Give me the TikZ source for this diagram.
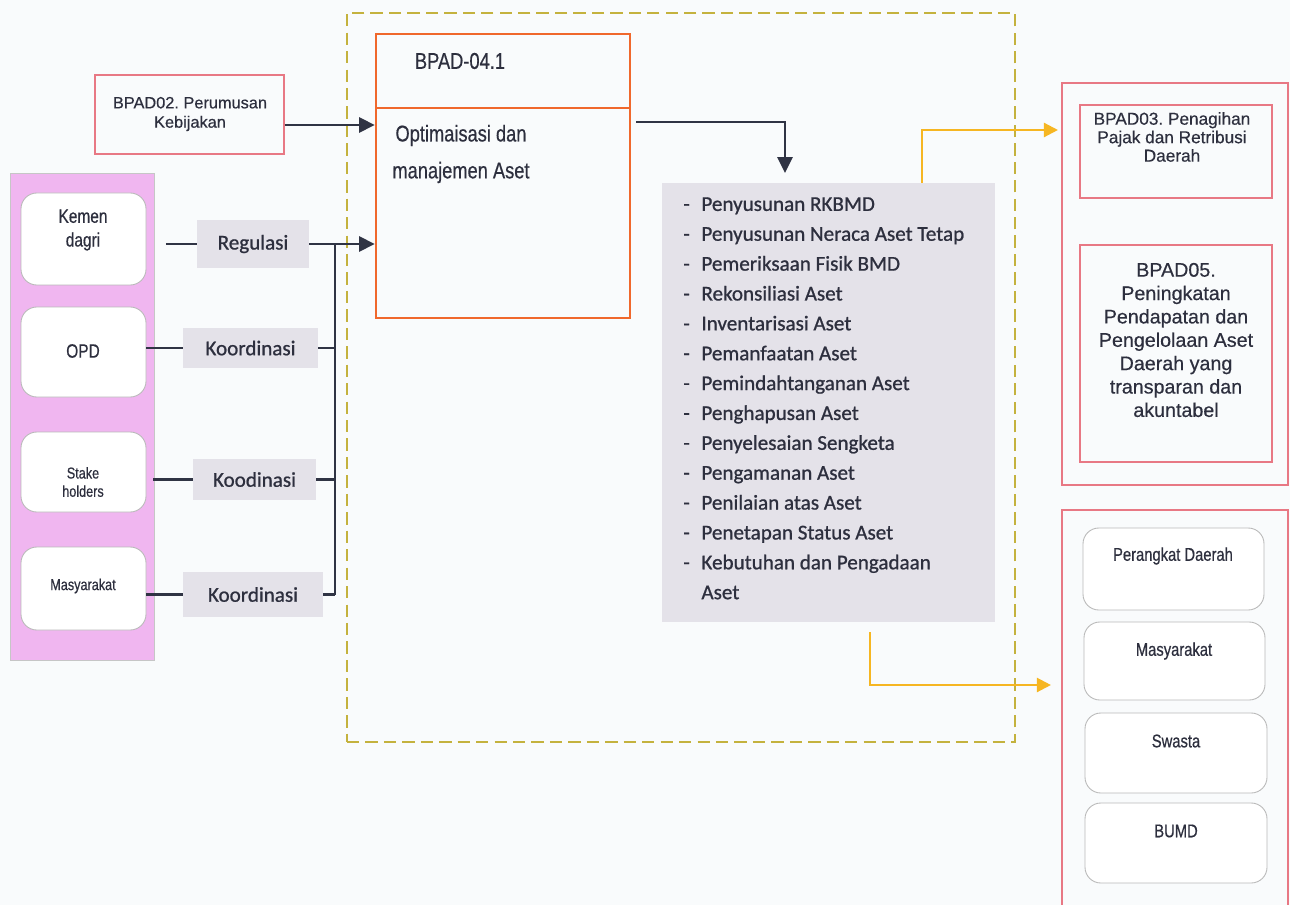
\documentclass[tikz,border=0pt]{standalone}
\usepackage{fontspec}
\setmainfont{Liberation Sans}[FakeBold=0.5]
\newfontfamily\narrowfont{Liberation Sans}[FakeStretch=0.8,FakeBold=0.5]
\newfontfamily\calibfont{Carlito}[FakeBold=0.9]
\usetikzlibrary{arrows.meta,fit,positioning}

\definecolor{bingkai}{RGB}{196,178,62}
\definecolor{oranye}{RGB}{240,104,44}
\definecolor{merah}{RGB}{232,120,132}
\definecolor{ungu}{RGB}{240,182,240}
\definecolor{abu}{RGB}{228,226,233}
\definecolor{gelap}{RGB}{48,52,68}
\definecolor{kuning}{RGB}{246,182,34}
\definecolor{latar}{RGB}{249,251,252}
\definecolor{teks}{RGB}{45,47,62}

\newcommand{\butir}[1]{\makebox[10.3pt][l]{-}#1}
\frenchspacing

\begin{document}
\begin{tikzpicture}[x=0.02cm, y=-0.02cm,
        every node/.style={text=teks},
        kotak/.style={draw=merah, line width=0.6pt, inner sep=0pt},
        bulat/.style={draw=gray!55, fill=white, rounded corners=9pt, line width=0.5pt, inner sep=0pt},
        tanda/.style={fill=abu, inner sep=0pt},
        tekstanda/.style={font=\calibfont\fontsize{12}{14}\selectfont},
        garis/.style={gelap, line width=1.6pt},
        panah/.style={-{Triangle[length=9pt,width=8.5pt]}, gelap, line width=1.6pt},
        panahkuning/.style={-{Triangle[length=8pt,width=8pt]}, kuning, line width=1.3pt}] % BPAD-04.1
            \useasboundingbox (0,0) rectangle (1290,905);
            \fill[latar] (0,0) rectangle (1290,905);

            \node[fit={(347,13) (1015,742)}, draw=bingkai, line width=1.2pt, dash pattern=on 7pt off 3.5pt, inner sep=0pt] (rangka) {};

            % kotak tengah
            \node[fit={(376,34) (630,108)}, draw=oranye, line width=1.3pt, inner sep=0pt] (bpadkepala) {};
            \node[fit={(376,108) (630,318)}, draw=oranye, line width=1.3pt, inner sep=0pt] (bpadisi) {};
            \node[font=\narrowfont\fontsize{13}{15}\selectfont] (judul) at (460,61) {BPAD-04.1};
            \node[font=\narrowfont\fontsize{13}{21}\selectfont, align=center] (isiteks) at (461,154) {Optimaisasi dan\\manajemen Aset};

            \node[kotak, fit={(95,75) (284,154)}] (bpad02) {};
            \node[font=\fontsize{9.3}{11}\selectfont, align=center] (bpad02teks) at (190,114) {BPAD02. Perumusan\\Kebijakan};
            \coordinate (masukA) at (373,125);
            \draw[panah] (bpad02.east |- masukA) -- (bpadisi.west |- masukA);

            % panel kiri
            \node[fit={(10,173) (154,660)}, fill=ungu, draw=gray!45, line width=0.5pt, inner sep=0pt] (panel) {};
            \node[bulat, fit={(21,193) (146,285)}] (kemen) {};
            \node[bulat, fit={(21,307) (146,397)}] (opd) {};
            \node[bulat, fit={(21,432) (146,512)}] (stake) {};
            \node[bulat, fit={(21,547) (146,630)}] (masy) {};
            \node[font=\narrowfont\fontsize{11}{13.5}\selectfont, align=center] (kementeks) at (83,230) {Kemen\\dagri};
            \node[font=\narrowfont\fontsize{11}{12}\selectfont] (opdteks) at (83,351) {OPD};
            \node[font=\narrowfont\fontsize{9}{10.4}\selectfont, align=center] (staketeks) at (83,482) {Stake\\holders};
            \node[font=\narrowfont\fontsize{9}{10}\selectfont] (masyteks) at (83,586) {Masyarakat};

            \node[tanda, fit={(197,220) (309,268)}] (regulasi) {};
            \node[tanda, fit={(183,328) (318,368)}] (koord1) {};
            \node[tanda, fit={(193,459) (316,500)}] (koord2) {};
            \node[tanda, fit={(183,572) (323,617)}] (koord3) {};
            \node[tekstanda] (regulasiteks) at (regulasi) {Regulasi};
            \node[tekstanda] (koord1teks) at (koord1) {Koordinasi};
            \node[tekstanda] (koord2teks) at (koord2) {Koodinasi};
            \node[tekstanda] (koord3teks) at (koord3) {Koordinasi};

            \coordinate (busx) at (335,0);
            \draw[garis, shorten <=11pt] (kemen.east |- regulasi.west) -- (regulasi.west);
            \draw[panah] (regulasi.east) -- (regulasi.east -| bpadisi.west);
            \draw[garis] (opd.east |- koord1.west) -- (koord1.west);
            \draw[garis] (koord1.east) -- (koord1.east -| busx);
            \draw[garis, shorten <=4pt] (stake.east |- koord2.west) -- (koord2.west);
            \draw[garis] (koord2.east) -- (koord2.east -| busx);
            \draw[garis] (masy.east |- koord3.west) -- (koord3.west);
            \draw[garis] (koord3.east) -- (koord3.east -| busx);
            \draw[garis] (regulasi.east -| busx) -- (koord3.east -| busx);

            % daftar kegiatan
            \node[fit={(662,183) (995,622)}, fill=abu, inner sep=0pt] (daftar) {};
            \node[anchor=north west, inner sep=0pt, align=left, font=\calibfont\fontsize{12}{17}\selectfont] (butiran) at (683,197) {%
                \butir{Penyusunan RKBMD}\\
                \butir{Penyusunan Neraca Aset Tetap}\\
                \butir{Pemeriksaan Fisik BMD}\\
                \butir{Rekonsiliasi Aset}\\
                \butir{Inventarisasi Aset}\\
                \butir{Pemanfaatan Aset}\\
                \butir{Pemindahtanganan Aset}\\
                \butir{Penghapusan Aset}\\
                \butir{Penyelesaian Sengketa}\\
                \butir{Pengamanan Aset}\\
                \butir{Penilaian atas Aset}\\
                \butir{Penetapan Status Aset}\\
                \butir{Kebutuhan dan Pengadaan}\\
                \hspace*{10.3pt}Aset};

            \coordinate (belok) at (785,122);
            \draw[panah, shorten <=3pt, shorten >=5.5pt] (bpadisi.east |- belok) -| (daftar.north -| belok);

            % panel kanan
            \node[kotak, fit={(1062,83) (1288,485)}] (rtop) {};
            \node[kotak, fit={(1080,105) (1272,198)}] (bpad03) {};
            \node[kotak, fit={(1080,245) (1272,462)}] (bpad05) {};
            \node[font=\fontsize{9.8}{10.5}\selectfont, align=center] (bpad03teks) at (1172,137) {BPAD03. Penagihan\\Pajak dan Retribusi\\Daerah};
            \node[font=\fontsize{11.2}{13.3}\selectfont, align=center] (bpad05teks) at (1176,340) {BPAD05.\\Peningkatan\\Pendapatan dan\\Pengelolaan Aset\\Daerah yang\\transparan dan\\akuntabel};

            \node[kotak, fit={(1062,510) (1288,915)}] (rbot) {};
            \node[bulat, fit={(1083,528) (1264,610)}] (pd) {};
            \node[bulat, fit={(1084,622) (1265,700)}] (masy2) {};
            \node[bulat, fit={(1085,713) (1267,793)}] (swasta) {};
            \node[bulat, fit={(1085,803) (1267,883)}] (bumd) {};
            \node[font=\narrowfont\fontsize{10.5}{12}\selectfont] (pdteks) at (1173,556) {Perangkat Daerah};
            \node[font=\narrowfont\fontsize{10.5}{12}\selectfont] (masy2teks) at (1174,651) {Masyarakat};
            \node[font=\narrowfont\fontsize{10.5}{12}\selectfont] (swastateks) at (1176,741) {Swasta};
            \node[font=\narrowfont\fontsize{10.5}{12}\selectfont] (bumdteks) at (1176,831) {BUMD};

            \coordinate (tikuA) at (922,130);
            \coordinate (tikuB) at (870,685);
            \draw[panahkuning, shorten >=2pt] (daftar.north -| tikuA) |- (rtop.west |- tikuA);
            \draw[panahkuning, shorten <=5.5pt, shorten >=6pt] (daftar.south -| tikuB) |- (rbot.west |- tikuB);
        \end{tikzpicture}
\end{document}
